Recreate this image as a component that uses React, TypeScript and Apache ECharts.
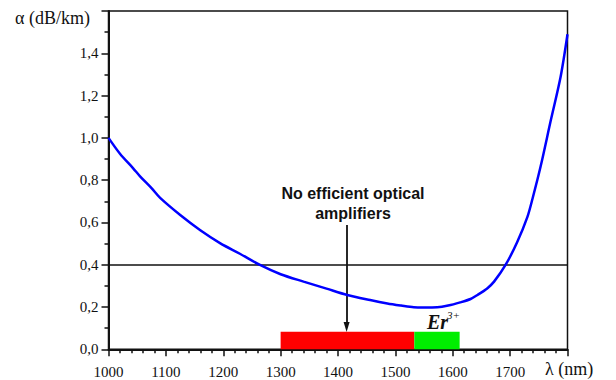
import React, { useEffect, useRef } from "react";
import * as echarts from "echarts";

const wavelengths = [1000, 1020, 1043, 1055, 1075, 1090, 1125, 1160, 1195, 1229, 1264, 1300, 1340, 1380, 1416, 1456, 1486, 1510, 1532, 1550, 1573, 1592, 1613, 1631, 1643, 1660, 1672, 1692, 1712, 1730, 1739, 1753, 1771, 1788, 1800];
const attenuation = [1.0, 0.925, 0.856, 0.818, 0.762, 0.716, 0.635, 0.563, 0.501, 0.452, 0.399, 0.355, 0.32, 0.287, 0.257, 0.233, 0.217, 0.207, 0.199, 0.198, 0.199, 0.207, 0.222, 0.238, 0.257, 0.288, 0.32, 0.399, 0.505, 0.625, 0.712, 0.863, 1.084, 1.289, 1.49];

const thresholdValue = 0.4;
const noAmpBand = [1300, 1533];
const erBand = [1533, 1612];
const bandHeight = 0.083;
const arrowX = 1415;
const arrowFrom = 0.588;
const arrowTo = 0.105;

const yTicks = [0, 0.2, 0.4, 0.6, 0.8, 1.0, 1.2, 1.4];

export default function App() {
  const ref = useRef<HTMLDivElement>(null);
  useEffect(() => {
    if (!ref.current) return;
    const chart = echarts.init(ref.current, null, { renderer: "svg" });
    const serif = "'Liberation Serif', 'Times New Roman', serif";
    chart.setOption({
      animation: false,
      backgroundColor: "#fff",
      grid: {
        left: 108.5,
        right: 48.5,
        top: 11,
        bottom: 30.7,
        show: true,
        borderColor: "#111",
        borderWidth: 1.5,
      },
      xAxis: {
        type: "value",
        min: 1000,
        max: 1800,
        interval: 100,
        axisLine: { show: true, onZero: false, lineStyle: { color: "#111", width: 2 } },
        axisTick: { show: true, inside: false, length: 7, lineStyle: { color: "#111", width: 1.5 } },
        minorTick: { show: true, splitNumber: 5, length: 4, lineStyle: { color: "#111", width: 1.5 } },
        splitLine: { show: false },
        axisLabel: {
          margin: 15,
          fontFamily: serif,
          fontSize: 15,
          color: "#111",
          formatter: (v: number) => (v === 1800 ? "" : String(v)),
        },
      },
      yAxis: {
        type: "value",
        min: 0,
        max: 1.6,
        interval: 0.2,
        axisLine: { show: true, onZero: false, lineStyle: { color: "#111", width: 2 } },
        axisTick: { show: true, inside: false, length: 7, lineStyle: { color: "#111", width: 1.5 } },
        minorTick: { show: true, splitNumber: 2, length: 4, lineStyle: { color: "#111", width: 1.5 } },
        splitLine: { show: false },
        axisLabel: {
          margin: 10,
          fontFamily: serif,
          fontSize: 15,
          color: "#111",
          formatter: (v: number) => {
            const t = yTicks.find((x) => Math.abs(x - v) < 1e-6);
            return t === undefined ? "" : t.toFixed(1).replace(".", ",");
          },
        },
      },
      series: [
        {
          type: "line",
          data: wavelengths.map((w, i) => [w, attenuation[i]]),
          showSymbol: false,
          smooth: 0.3,
          lineStyle: { color: "#0000ff", width: 2.5 },
          z: 5,
          markLine: {
            silent: true,
            animation: false,
            label: { show: false },
            data: [
              [
                { coord: [1000, thresholdValue], symbol: "none" },
                { coord: [1800, thresholdValue], symbol: "none" },
              ],
              [
                { coord: [arrowX, arrowFrom], symbol: "none", lineStyle: { width: 1.8 } },
                { coord: [arrowX, arrowTo], symbol: "triangle", symbolSize: [6, 10] },
              ],
            ],
            lineStyle: { color: "#111", width: 1.5, type: "solid" },
            symbol: ["none", "none"],
          },
          markArea: {
            silent: true,
            label: { show: false },
            data: [
              [
                { xAxis: noAmpBand[0], yAxis: 0, itemStyle: { color: "#ff0000", opacity: 1 } },
                { xAxis: noAmpBand[1], yAxis: bandHeight },
              ],
              [
                { xAxis: erBand[0], yAxis: 0, itemStyle: { color: "#00ee00", opacity: 1 } },
                { xAxis: erBand[1], yAxis: bandHeight },
              ],
            ],
          },
        },
      ],
      graphic: [
        {
          type: "text",
          left: 15,
          top: 9,
          style: { text: "α (dB/km)", fontFamily: serif, fontSize: 18, fill: "#111" },
        },
        {
          type: "text",
          left: 545,
          top: 360,
          style: { text: "λ (nm)", fontFamily: serif, fontSize: 18, fill: "#111" },
        },
        {
          type: "text",
          x: 353,
          y: 203,
          style: {
            text: "No efficient optical\namplifiers",
            fontFamily: "'Liberation Sans', Arial, sans-serif",
            fontWeight: "bold",
            fontSize: 16,
            lineHeight: 20,
            fill: "#111",
            align: "center",
            verticalAlign: "middle",
          },
        },
        {
          type: "text",
          left: 427,
          top: 312,
          style: {
            text: "Er",
            fontFamily: serif,
            fontWeight: "bold",
            fontStyle: "italic",
            fontSize: 20,
            fill: "#111",
          },
        },
        {
          type: "text",
          left: 447,
          top: 309,
          style: {
            text: "3+",
            fontFamily: serif,
            fontStyle: "italic",
            fontSize: 11,
            fill: "#111",
          },
        },
      ],
    });
    return () => chart.dispose();
  }, []);
  return (
    <div
      ref={ref}
      style={{ position: "absolute", left: 0, top: 0, width: 616, height: 380 }}
    />
  );
}
